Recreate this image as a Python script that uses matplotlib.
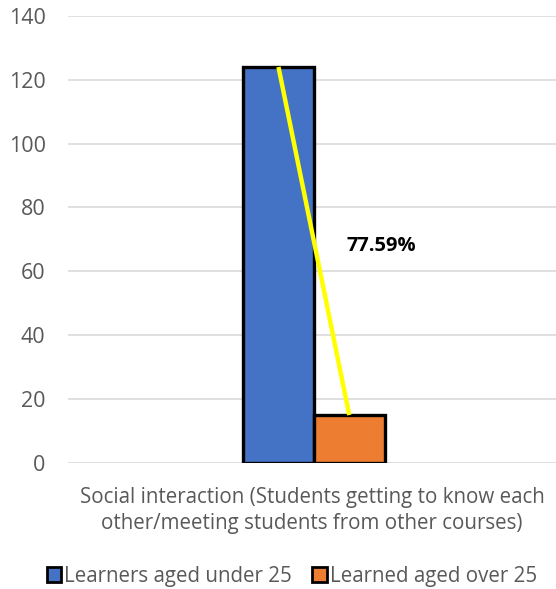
import numpy as np
import matplotlib
matplotlib.use("Agg")
import matplotlib.pyplot as plt

plt.rcParams["font.family"] = ["Open Sans", "DejaVu Sans"]

category = "Social interaction (Students getting to know each\nother/meeting students from other courses)"
groups = ["Learners aged under 25", "Learned aged over 25"]
values = [124, 15]
colors = ["#4472C4", "#ED7D31"]
diff_label = "77.59%"
diff_label_y = 68

TXT = "#595959"
GRID = "#D9D9D9"


def main():
    fig = plt.figure(figsize=(5.56, 5.89), dpi=100)
    ax = fig.add_axes([0.122, 0.214, 0.878, 0.759])

    width = 0.145
    xs = np.array([-width / 2, width / 2]) + 0.004
    ax.bar(xs, values, width=width, color=colors, edgecolor="black",
           linewidth=2.4, zorder=3)

    # line joining the tops of the two bars
    ax.plot(xs, values, color="#FFFF00", lw=3.2, zorder=4,
            solid_capstyle="butt")
    ax.text(0.143, diff_label_y, diff_label, ha="center", va="center",
            fontsize=14.5, fontweight="bold", color="black", zorder=5)

    ax.set_xlim(-0.5, 0.5)
    ax.set_ylim(0, 140)
    ax.set_yticks(np.arange(0, 141, 20))
    ax.set_xticks([0])
    ax.set_xticklabels([category], fontsize=14.8, color=TXT)
    ax.tick_params(axis="y", labelsize=15.5, labelcolor=TXT, length=0, pad=16)
    ax.tick_params(axis="x", length=0, pad=17)
    ax.grid(axis="y", color=GRID, lw=1.2, zorder=0)
    for s in ax.spines.values():
        s.set_visible(False)
    for lbl in ax.get_xticklabels():
        lbl.set_multialignment("center")
        lbl.set_linespacing(1.35)

    handles = [plt.Rectangle((0, 0), 1, 1, facecolor=c, edgecolor="black",
                             linewidth=2) for c in colors]
    fig.legend(handles, groups, loc="center", bbox_to_anchor=(0.525, 0.022),
               ncol=2, frameon=False, fontsize=14.8, labelcolor=TXT,
               handlelength=0.7, handleheight=0.7, handletextpad=0.15,
               columnspacing=1.0)

    fig.savefig("out.png", dpi=100, facecolor="white")


if __name__ == "__main__":
    main()
